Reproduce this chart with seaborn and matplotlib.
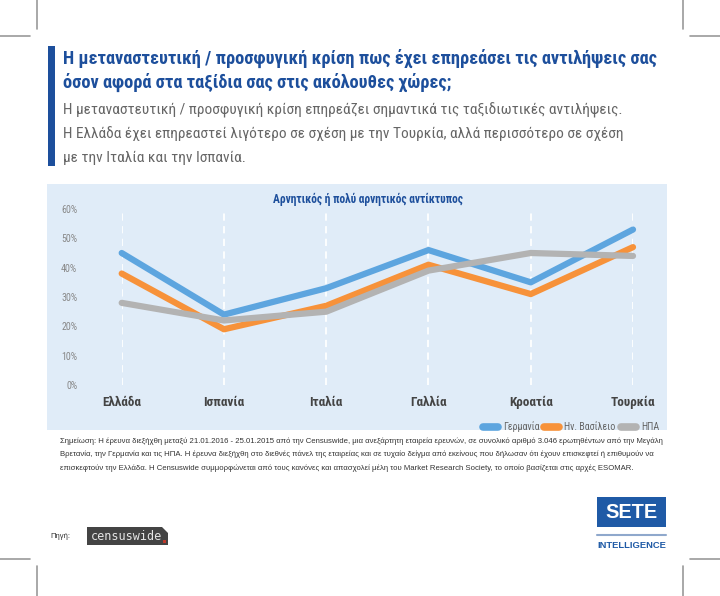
import matplotlib
matplotlib.use("Agg")
import matplotlib.pyplot as plt
from matplotlib import font_manager
from matplotlib.patches import Rectangle, Polygon
from matplotlib.lines import Line2D
import pandas as pd
import seaborn as sns

# data
countries = ["Ελλάδα", "Ισπανία", "Ιταλία", "Γαλλία", "Κροατία", "Τουρκία"]
germany = [45, 24, 33, 46, 35, 53]
uk = [38, 19, 27, 41, 31, 47]
usa = [28, 22, 25, 39, 45, 44]
series_names = ["Γερμανία", "Ην. Βασίλειο", "ΗΠΑ"]
y_ticks = [0, 10, 20, 30, 40, 50, 60]

title = ["Η μεταναστευτική / προσφυγική κρίση πως έχει επηρεάσει τις αντιλήψεις σας",
         "όσον αφορά στα ταξίδια σας στις ακόλουθες χώρες;"]
subtitle = ["Η μεταναστευτική / προσφυγική κρίση επηρεάζει σημαντικά τις ταξιδιωτικές αντιλήψεις.",
            "Η Ελλάδα έχει επηρεαστεί λιγότερο σε σχέση με την Τουρκία, αλλά περισσότερο σε σχέση",
            "με την Ιταλία και την Ισπανία."]
chart_title = "Αρνητικός ή πολύ αρνητικός αντίκτυπος"
note = ["Σημείωση: Η έρευνα διεξήχθη μεταξύ 21.01.2016 - 25.01.2015 από την Censuswide, μια ανεξάρτητη εταιρεία ερευνών, σε συνολικό αριθμό 3.046 ερωτηθέντων από την Μεγάλη",
        "Βρετανία, την Γερμανία και τις ΗΠΑ. Η έρευνα διεξήχθη στο διεθνές πάνελ της εταιρείας και σε τυχαίο δείγμα από εκείνους που δήλωσαν ότι έχουν επισκεφτεί ή επιθυμούν να",
        "επισκεφτούν την Ελλάδα. Η Censuswide συμμορφώνεται από τους κανόνες και απασχολεί μέλη του Market Research Society, το οποίο βασίζεται στις αρχές ESOMAR."]

df = pd.DataFrame({
    "country": countries * 3,
    "value": germany + uk + usa,
    "series": [n for n in series_names for _ in countries],
})

sns.set_theme(style="white")
names = {f.name for f in font_manager.fontManager.ttflist}


def pick(*cands):
    return [c for c in cands if c in names] + ["DejaVu Sans"]


narrow = pick("Liberation Sans Narrow", "Roboto Condensed", "DejaVu Sans Condensed", "Roboto")
plain = pick("Liberation Sans", "Roboto")
plt.rcParams["font.family"] = narrow

W, H = 720, 596
fig = plt.figure(figsize=(7.2, 5.96), dpi=100)
fig.patch.set_facecolor("white")
renderer = fig.canvas.get_renderer()


def fx(x):
    return x / W


def fy(y):
    return 1 - y / H


def fit_text(x, y, s, width, size, **kw):
    # scale the font so the line spans the width it has in the reference
    t = fig.text(fx(x), fy(y), s, fontsize=size, **kw)
    w = t.get_window_extent(renderer).width
    t.set_fontsize(size * width / w)
    return t


# crop marks
for xs, ys in [((37, 37), (0, 29)), ((0, 30), (36, 36)),
               ((683, 683), (0, 29)), ((690, 720), (36, 36)),
               ((37, 37), (566, 596)), ((683, 683), (566, 596)),
               ((690, 720), (559, 559)), ((0, 30), (559, 559))]:
    fig.add_artist(Line2D([fx(x) for x in xs], [fy(y) for y in ys], color="#9a9a9a", lw=1.2))

# blue bar and headings
fig.add_artist(Rectangle((fx(48), fy(166)), fx(7), 120 / H, color="#1d4f9c", lw=0))
tsize = fit_text(63, 58, title[0], 592, 13, ha="left", va="center", fontweight="bold",
                 color="#1d4f9c").get_fontsize()
fig.text(fx(63), fy(82), title[1], ha="left", va="center", fontsize=tsize, fontweight="bold",
         color="#1d4f9c")
ssize = fit_text(63, 110, subtitle[0], 557, 11, ha="left", va="center",
                 color="#666666").get_fontsize()
for i, line in enumerate(subtitle[1:]):
    fig.text(fx(63), fy(134 + 24 * i), line, ha="left", va="center", fontsize=ssize,
             color="#666666")

# chart panel
fig.add_artist(Rectangle((fx(47), fy(430)), fx(620), 246 / H, color="#e0ecf8", lw=0, zorder=0))
fit_text(368, 199, chart_title, 192, 9.5, ha="center", va="center", fontweight="bold",
         color="#1d4f9c")

ax = fig.add_axes([fx(121.7), fy(385), fx(633 - 121.7), (385 - 209) / H])
ax.set_facecolor("none")
palette = ["#5da5df", "#f7923a", "#b3b3b3"]
sns.lineplot(data=df, x="country", y="value", hue="series", palette=palette, sort=False,
             linewidth=4.5, ax=ax, legend=True)
for ln in ax.lines:
    ln.set_clip_on(False)
ax.set_xlim(0, 5)
ax.set_ylim(0, 60)
ax.set_yticks(y_ticks)
ax.set_yticklabels([f"{t}%" for t in y_ticks], fontsize=7.2, color="#888888")
ax.tick_params(axis="y", pad=32, length=0)
ax.tick_params(axis="x", pad=8, length=0)
for lab in ax.get_xticklabels():
    lab.set_fontweight("bold")
    lab.set_fontsize(9.5)
    lab.set_color("#444444")
ax.grid(axis="x", color="white", linestyle=(0, (4, 3)), linewidth=1.3)
ax.grid(axis="y", visible=False)
ax.set_axisbelow(True)
for s in ax.spines.values():
    s.set_visible(False)
ax.set_xlabel("")
ax.set_ylabel("")

handles, labels = ax.get_legend_handles_labels()
ax.get_legend().remove()
for h in handles:
    h.set_linewidth(5.5)
    h.set_solid_capstyle("round")
fig.legend(handles, labels, loc="center right", bbox_to_anchor=(fx(659), fy(427)), ncol=3,
           frameon=False, fontsize=7.2, handlelength=1.5, handletextpad=0.5, columnspacing=0.5,
           borderpad=0, borderaxespad=0, labelcolor="#666666")

# note
for i, line in enumerate(note):
    fig.text(fx(60), fy(441 + 13.5 * i), line, ha="left", va="center", fontsize=5.6,
             color="#333333", family=plain)

# source
fig.text(fx(50), fy(537), "Πηγή:", ha="left", va="center", fontsize=5.5, color="#333333",
         family=plain)
fig.add_artist(Polygon([(fx(87), fy(527)), (fx(162), fy(527)), (fx(168), fy(533)),
                        (fx(168), fy(545)), (fx(87), fy(545))], closed=True, color="#444444", lw=0))
fig.text(fx(91), fy(536), "censuswide", ha="left", va="center", fontsize=8.5, color="#e6e6e6",
         family=["DejaVu Sans Mono", "Liberation Mono"])
fig.add_artist(Rectangle((fx(163), fy(543)), fx(3), 3 / H, color="#c0392b", lw=0))

# SETE logo
fig.add_artist(Rectangle((fx(597), fy(527)), fx(69), 30 / H, color="#1f5aa6", lw=0))
fit_text(631.5, 512, "SETE", 52, 17, ha="center", va="center", fontweight="bold",
         color="white", family=plain)
fig.add_artist(Line2D([fx(597), fx(666)], [fy(535), fy(535)], color="#8fa8cc", lw=1.5))
fit_text(631.5, 546, "INTELLIGENCE", 69, 6.3, ha="center", va="center", fontweight="bold",
         color="#1f5aa6", family=plain)

fig.savefig("out.png", dpi=100, facecolor="white")
